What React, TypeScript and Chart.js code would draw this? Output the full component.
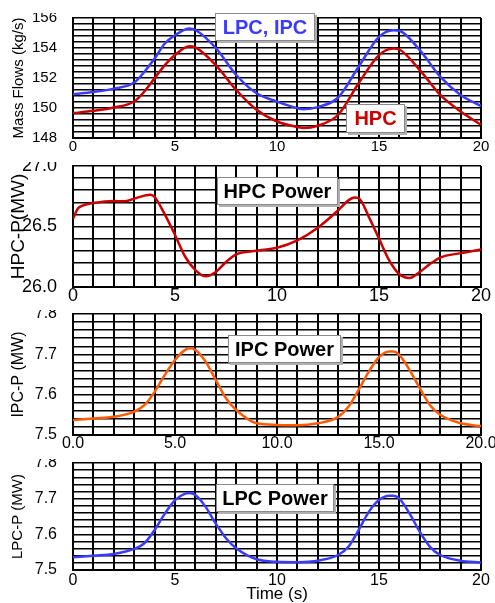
import React, { useEffect, useRef } from 'react';
import { Chart, registerables } from 'chart.js';

Chart.register(...registerables);

// ---------- data ----------
const flowTime = [0, 1, 2, 3, 3.5, 4, 4.5, 5, 5.7, 6, 7, 8, 9, 10, 11, 11.3, 12, 13, 14, 15, 15.7, 16, 17, 18, 19, 20];
const lpcIpcFlow = [150.92, 151.07, 151.29, 151.7, 152.42, 153.3, 154.3, 154.85, 155.3, 155.2, 154.0, 152.2, 150.98, 150.43, 149.99, 149.92, 150.06, 150.7, 152.75, 154.74, 155.19, 155.15, 153.86, 152.09, 150.87, 150.14];
const hpcFlow = [149.66, 149.81, 150.03, 150.43, 151.1, 151.98, 152.86, 153.53, 154.12, 154.04, 152.86, 151.2, 149.88, 149.1, 148.73, 148.66, 148.82, 149.55, 151.65, 153.53, 153.97, 153.9, 152.53, 150.87, 149.77, 148.88];

const hpcTime = [0, 0.25, 0.5, 1, 2, 2.5, 3, 3.5, 3.8, 4, 4.5, 5, 5.5, 6, 6.5, 7, 7.5, 8, 9, 10, 11, 12, 13, 13.5, 13.8, 14, 14.5, 15, 15.5, 16, 16.5, 17, 17.5, 18, 19, 20];
const hpcPower = [26.565, 26.65, 26.675, 26.694, 26.711, 26.708, 26.73, 26.755, 26.763, 26.744, 26.6, 26.43, 26.25, 26.14, 26.088, 26.124, 26.207, 26.27, 26.3, 26.325, 26.386, 26.49, 26.634, 26.716, 26.739, 26.735, 26.58, 26.4, 26.22, 26.105, 26.074, 26.124, 26.19, 26.243, 26.28, 26.31];

const powerTime = [0, 1, 2, 3, 3.5, 4, 4.5, 5, 5.5, 5.7, 6, 6.5, 7, 7.5, 8, 9, 10, 11, 12, 13, 13.5, 14, 14.5, 15, 15.5, 15.7, 16, 16.5, 17, 17.5, 18, 19, 20];
const ipcPower = [7.537, 7.541, 7.545, 7.558, 7.574, 7.607, 7.649, 7.686, 7.711, 7.715, 7.711, 7.682, 7.636, 7.591, 7.562, 7.529, 7.525, 7.524, 7.529, 7.545, 7.57, 7.612, 7.657, 7.693, 7.707, 7.707, 7.698, 7.661, 7.616, 7.574, 7.55, 7.529, 7.522];
const lpcPower = [7.5355, 7.54, 7.545, 7.559, 7.575, 7.612, 7.658, 7.696, 7.714, 7.716, 7.71, 7.677, 7.63, 7.589, 7.561, 7.53, 7.523, 7.522, 7.526, 7.542, 7.565, 7.612, 7.663, 7.696, 7.708, 7.708, 7.7, 7.658, 7.607, 7.565, 7.542, 7.526, 7.521];

const xTickEvery = 5;

// ---------- styling ----------
const FONT = "'Liberation Sans', Arial, Helvetica, sans-serif";
const BLUE = '#3b3bff';
const RED = '#cc0000';
const ORANGE = '#ff5a00';

type Series = { x: number[]; y: number[]; color: string };
type PanelSpec = {
  top: number; height: number; padTop: number; xHeight: number;
  yMin: number; yMax: number; yStep: number; yLabelEvery: number; yDecimals: number;
  xDecimals: number; tickSize: number; xTickPad: number;
  yTitle: string; yTitleSize: number; yTitlePad: number;
  xTitle?: string;
  series: Series[];
};

const isMultiple = (v: number, m: number) => Math.abs(v / m - Math.round(v / m)) < 1e-6;

const panels: PanelSpec[] = [
  {
    top: 13, height: 147, padTop: 5, xHeight: 22,
    yMin: 148, yMax: 156, yStep: 0.4, yLabelEvery: 2, yDecimals: 0,
    xDecimals: 0, tickSize: 15, xTickPad: 1,
    yTitle: 'Mass Flows (kg/s)', yTitleSize: 15, yTitlePad: 10,
    series: [
      { x: flowTime, y: lpcIpcFlow, color: BLUE },
      { x: flowTime, y: hpcFlow, color: RED },
    ],
  },
  {
    top: 162, height: 146, padTop: 4, xHeight: 21,
    yMin: 26, yMax: 27, yStep: 0.1, yLabelEvery: 0.5, yDecimals: 1,
    xDecimals: 0, tickSize: 18, xTickPad: 0,
    yTitle: 'HPC-P(MW)', yTitleSize: 19, yTitlePad: 7,
    series: [{ x: hpcTime, y: hpcPower, color: RED }],
  },
  {
    top: 310, height: 147, padTop: 4, xHeight: 22,
    yMin: 7.5, yMax: 7.8, yStep: 0.02, yLabelEvery: 0.1, yDecimals: 1,
    xDecimals: 1, tickSize: 16, xTickPad: 1,
    yTitle: 'IPC-P (MW)', yTitleSize: 16, yTitlePad: 8.5,
    series: [{ x: powerTime, y: ipcPower, color: ORANGE }],
  },
  {
    top: 459, height: 144, padTop: 4, xHeight: 33,
    yMin: 7.5, yMax: 7.8, yStep: 0.02, yLabelEvery: 0.1, yDecimals: 1,
    xDecimals: 0, tickSize: 16, xTickPad: 3,
    yTitle: 'LPC-P (MW)', yTitleSize: 15, yTitlePad: 9,
    xTitle: 'Time (s)',
    series: [{ x: powerTime, y: lpcPower, color: BLUE }],
  },
];

const labels = [
  { text: 'LPC, IPC', color: BLUE, left: 215, top: 13, width: 100, height: 28 },
  { text: 'HPC', color: RED, left: 346, top: 104, width: 59, height: 29 },
  { text: 'HPC Power', color: '#000', left: 217, top: 177, width: 121, height: 28 },
  { text: 'IPC Power', color: '#000', left: 228, top: 335, width: 113, height: 28 },
  { text: 'LPC Power', color: '#000', left: 216, top: 484, width: 118, height: 28 },
];

function Panel({ spec }: { spec: PanelSpec }) {
  const ref = useRef<HTMLCanvasElement | null>(null);
  useEffect(() => {
    if (!ref.current) return;
    const chart = new Chart(ref.current, {
      type: 'line',
      data: {
        datasets: spec.series.map((s) => ({
          data: s.x.map((x, i) => ({ x, y: s.y[i] })),
          borderColor: s.color,
          backgroundColor: s.color,
          borderWidth: 2.5,
          pointRadius: 0,
          cubicInterpolationMode: 'monotone' as const,
          fill: false,
        })),
      },
      options: {
        responsive: false,
        animation: false,
        devicePixelRatio: 1,
        layout: { padding: { top: spec.padTop, right: 14, bottom: 0, left: 0 } },
        plugins: { legend: { display: false }, tooltip: { enabled: false } },
        scales: {
          x: {
            type: 'linear',
            min: 0,
            max: 20,
            afterFit: (s: any) => { s.height = spec.xHeight; s.paddingLeft = 0; s.paddingRight = 0; },
            ticks: {
              stepSize: 1,
              autoSkip: false,
              maxRotation: 0,
              padding: spec.xTickPad,
              color: '#000',
              font: { family: FONT, size: spec.tickSize, lineHeight: 1 },
              callback: (v: any) => (isMultiple(Number(v), xTickEvery) ? Number(v).toFixed(spec.xDecimals) : ''),
            },
            grid: { color: '#000', lineWidth: 2, drawTicks: false },
            border: { color: '#000', width: 2 },
            title: spec.xTitle
              ? { display: true, text: spec.xTitle, color: '#000', font: { family: FONT, size: 17, lineHeight: 1 }, padding: { top: 0, bottom: 0.5 } }
              : { display: false },
          },
          y: {
            type: 'linear',
            min: spec.yMin,
            max: spec.yMax,
            afterFit: (s: any) => { s.width = 73; s.paddingTop = 0; s.paddingBottom = 0; },
            ticks: {
              stepSize: spec.yStep,
              autoSkip: false,
              padding: 16,
              color: '#000',
              font: { family: FONT, size: spec.tickSize, lineHeight: 1 },
              callback: (v: any) => (isMultiple(Number(v), spec.yLabelEvery) ? Number(v).toFixed(spec.yDecimals) : ''),
            },
            grid: { color: '#000', lineWidth: 1.5, drawTicks: false },
            border: { color: '#000', width: 2 },
            title: {
              display: true,
              text: spec.yTitle,
              color: '#000',
              font: { family: FONT, size: spec.yTitleSize, lineHeight: 1.2 },
              padding: { top: spec.yTitlePad, bottom: 0 },
            },
          },
        },
      } as any,
    });
    return () => chart.destroy();
  }, [spec]);
  return (
    <canvas
      ref={ref}
      width={495}
      height={spec.height}
      style={{ position: 'absolute', left: 0, top: spec.top, width: 495, height: spec.height }}
    />
  );
}

export default function App() {
  return (
    <div style={{ position: 'absolute', left: 0, top: 0, width: 495, height: 603, background: '#fff', overflow: 'hidden' }}>
      {panels.map((p, i) => (
        <Panel key={i} spec={p} />
      ))}
      {labels.map((l, i) => (
        <div
          key={'l' + i}
          style={{
            position: 'absolute',
            left: l.left,
            top: l.top,
            width: l.width,
            height: l.height,
            boxSizing: 'border-box',
            background: '#fff',
            border: '1px solid #8a8a8a',
            boxShadow: '2px 2px 0 #b0b0b0',
            color: l.color,
            fontFamily: FONT,
            fontWeight: 'bold',
            fontSize: 20,
            display: 'flex',
            alignItems: 'center',
            justifyContent: 'center',
            whiteSpace: 'nowrap',
          }}
        >
          {l.text}
        </div>
      ))}
    </div>
  );
}
